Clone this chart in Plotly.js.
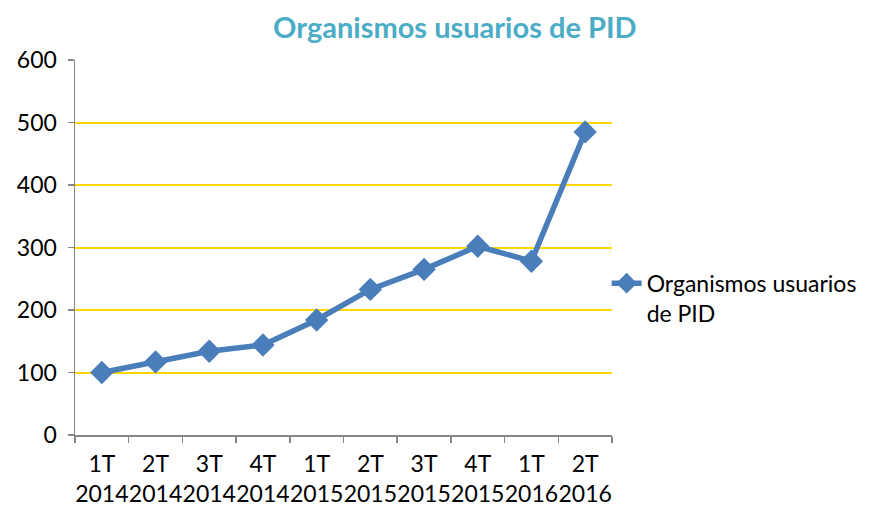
<!DOCTYPE html>
<html>
<head>
<meta charset="utf-8">
<script src="https://cdn.plot.ly/plotly-3.0.1.min.js"></script>
<style>html,body{margin:0;padding:0;background:#fff;}#chart{width:878px;height:513px;}</style>
</head>
<body>
<div id="chart"></div>
<script>
const categories = ["1T<br>2014","2T<br>2014","3T<br>2014","4T<br>2014","1T<br>2015","2T<br>2015","3T<br>2015","4T<br>2015","1T<br>2016","2T<br>2016"];
const values = [100, 117, 134, 144, 184, 233, 265, 302, 278, 485];
const seriesName = "Organismos usuarios<br>de PID";
const yTicks = [0, 100, 200, 300, 400, 500, 600];

const font = "Lato, 'Open Sans', sans-serif";
const trace = {
  x: categories, y: values, type: "scatter", mode: "lines+markers",
  name: seriesName,
  line: {color: "#4A7EBB", width: 5.5},
  marker: {symbol: "diamond", size: 18, color: "#4A7EBB"}
};
const layout = {
  width: 878, height: 513,
  margin: {l: 75, r: 266, t: 60, b: 78},
  paper_bgcolor: "#fff", plot_bgcolor: "#fff",
  font: {family: font, size: 22, color: "#000"},
  title: {text: "<b>Organismos usuarios de PID</b>", font: {family: font, size: 29, color: "#4BACC6"}, x: 0.518, xanchor: "center", y: 0.945, yanchor: "middle"},
  showlegend: true,
  legend: {x: 0.99, xanchor: "left", y: 0.462, yanchor: "top", valign: "top", font: {family: font, size: 23, color: "#000"}, bgcolor: "rgba(0,0,0,0)", itemwidth: 30},
  xaxis: {type: "category", range: [-0.5, 9.5], tickson: "boundaries", ticks: "outside", ticklen: 6, tickcolor: "#868686", tickwidth: 1.5,
          showline: true, linecolor: "#868686", linewidth: 1.5, showgrid: false, zeroline: false, tickangle: 0,
          tickfont: {family: font, size: 23, color: "#000"}, ticklabelstandoff: 8},
  yaxis: {range: [0, 600], tickvals: yTicks, ticks: "outside", ticklen: 6, tickcolor: "#868686", tickwidth: 1.5,
          showline: true, linecolor: "#868686", linewidth: 1.5, showgrid: true, gridcolor: "#FFD700", gridwidth: 2,
          zeroline: false, tickfont: {family: font, size: 23, color: "#000"}, ticklabelstandoff: 6}
};
Plotly.newPlot("chart", [trace], layout, {displayModeBar: false, staticPlot: true});
</script>
</body>
</html>
